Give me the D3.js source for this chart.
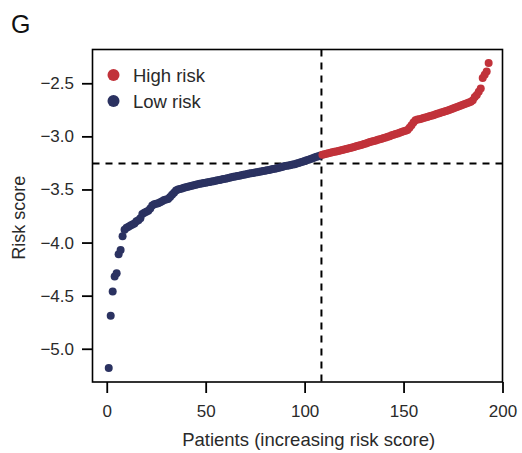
<!DOCTYPE html>
<html><head><meta charset="utf-8">
<script src="https://cdn.jsdelivr.net/npm/d3@7/dist/d3.min.js"></script>
<style>body{margin:0;background:#fff}svg{display:block}</style>
</head><body>
<svg id="c" width="522" height="453"></svg>
<script>
const lowRisk = [-5.18,-4.69,-4.46,-4.32,-4.29,-4.11,-4.07,-3.94,-3.88,-3.86,
-3.85,-3.84,-3.83,-3.82,-3.80,-3.79,-3.77,-3.73,-3.72,-3.71,
-3.70,-3.68,-3.65,-3.64,-3.635,-3.63,-3.62,-3.61,-3.60,-3.595,
-3.59,-3.57,-3.55,-3.53,-3.51,-3.50,-3.495,-3.49,-3.485,-3.48,
-3.475,-3.47,-3.465,-3.46,-3.455,-3.45,-3.447,-3.444,-3.44,-3.437,
-3.433,-3.43,-3.426,-3.422,-3.418,-3.414,-3.41,-3.406,-3.402,-3.398,
-3.394,-3.39,-3.385,-3.38,-3.377,-3.374,-3.37,-3.366,-3.362,-3.358,
-3.354,-3.35,-3.347,-3.344,-3.34,-3.337,-3.334,-3.33,-3.326,-3.323,
-3.32,-3.316,-3.312,-3.308,-3.304,-3.30,-3.295,-3.29,-3.285,-3.28,
-3.277,-3.274,-3.27,-3.266,-3.262,-3.256,-3.25,-3.244,-3.238,-3.232,
-3.226,-3.22,-3.213,-3.206,-3.20,-3.193,-3.187,-3.18];
const highRisk = [-3.172,-3.168,-3.164,-3.16,-3.155,-3.15,-3.146,-3.142,-3.138,-3.133,
-3.128,-3.124,-3.12,-3.115,-3.11,-3.105,-3.10,-3.094,-3.088,-3.083,
-3.078,-3.072,-3.066,-3.06,-3.054,-3.048,-3.043,-3.038,-3.033,-3.028,
-3.022,-3.016,-3.01,-3.004,-2.998,-2.99,-2.984,-2.978,-2.972,-2.965,
-2.958,-2.952,-2.946,-2.94,-2.92,-2.895,-2.87,-2.848,-2.842,-2.838,
-2.834,-2.828,-2.822,-2.817,-2.811,-2.805,-2.80,-2.794,-2.788,-2.782,
-2.776,-2.77,-2.764,-2.758,-2.751,-2.745,-2.738,-2.731,-2.724,-2.717,
-2.71,-2.703,-2.696,-2.689,-2.681,-2.673,-2.66,-2.63,-2.61,-2.58,
-2.55,-2.45,-2.42,-2.39,-2.31];
const xTicks = [0,50,100,150,200];
const yTicks = [-5.0,-4.5,-4.0,-3.5,-3.0,-2.5];
const cutoffX = 108.5;
const cutoffY = -3.255;
const groups = ["High risk","Low risk"];
const colors = {"High risk":"#c1323a","Low risk":"#2b3261"};

const points = [];
lowRisk.forEach((v,i)=>points.push({i:i+1,v,g:"Low risk"}));
highRisk.forEach((v,i)=>points.push({i:lowRisk.length+i+1,v,g:"High risk"}));

const svg = d3.select("#c");
const font = "Liberation Sans, Arial, Helvetica, sans-serif";
const txt = "#2a2a2a";
const L=92.5,R=502.5,T=49.5,B=382;
const x = d3.scaleLinear().domain([-7.2,200]).range([L,R]);
const y = d3.scaleLinear().domain([-5.313,-2.182]).range([B,T]);

// dashed lines
svg.append("line").attr("x1",x(cutoffX)).attr("x2",x(cutoffX)).attr("y1",T).attr("y2",B)
  .attr("stroke","#000").attr("stroke-width",2).attr("stroke-dasharray","7,6");
svg.append("line").attr("x1",L).attr("x2",R).attr("y1",y(cutoffY)).attr("y2",y(cutoffY))
  .attr("stroke","#000").attr("stroke-width",2).attr("stroke-dasharray","7,6");

// points
svg.append("g").selectAll("circle").data(points).join("circle")
  .attr("cx",d=>x(d.i)).attr("cy",d=>y(d.v)).attr("r",4)
  .attr("fill",d=>colors[d.g]);

// box
svg.append("rect").attr("x",L).attr("y",T).attr("width",R-L).attr("height",B-T)
  .attr("fill","none").attr("stroke","#000").attr("stroke-width",1.6);

// axes
const ax = svg.append("g").attr("transform",`translate(0,${B})`)
  .call(d3.axisBottom(x).tickValues(xTicks).tickSize(11).tickPadding(12).tickFormat(d3.format("d")));
const ay = svg.append("g").attr("transform",`translate(${L},0)`)
  .call(d3.axisLeft(y).tickValues(yTicks).tickSize(10.5).tickPadding(8).tickFormat(d3.format(".1f")));
[ax,ay].forEach(a=>{
  a.select(".domain").remove();
  a.selectAll(".tick line").attr("stroke","#000").attr("stroke-width",1.8);
  a.selectAll(".tick text").attr("fill",txt).style("font-family",font).style("font-size","17px");
});

// axis titles
svg.append("text").attr("x",x(100)+4).attr("y",446).attr("text-anchor","middle")
  .style("font-family",font).style("font-size","18.5px").attr("fill",txt)
  .text("Patients (increasing risk score)");
svg.append("text").attr("transform",`translate(25,${(T+B)/2+2}) rotate(-90)`).attr("text-anchor","middle")
  .style("font-family",font).style("font-size","18px").attr("fill",txt)
  .text("Risk score");

// panel letter
svg.append("text").attr("x",11).attr("y",33).style("font-family",font).style("font-size","25px")
  .attr("fill","#111").text("G");

// legend
const lg = svg.append("g");
groups.forEach((g,k)=>{
  lg.append("circle").attr("cx",113.5).attr("cy",75+k*26).attr("r",6).attr("fill",colors[g]);
  lg.append("text").attr("x",133).attr("y",81.5+k*26).style("font-family",font).style("font-size","18.5px")
    .attr("fill",txt).text(g);
});
</script>
</body></html>
